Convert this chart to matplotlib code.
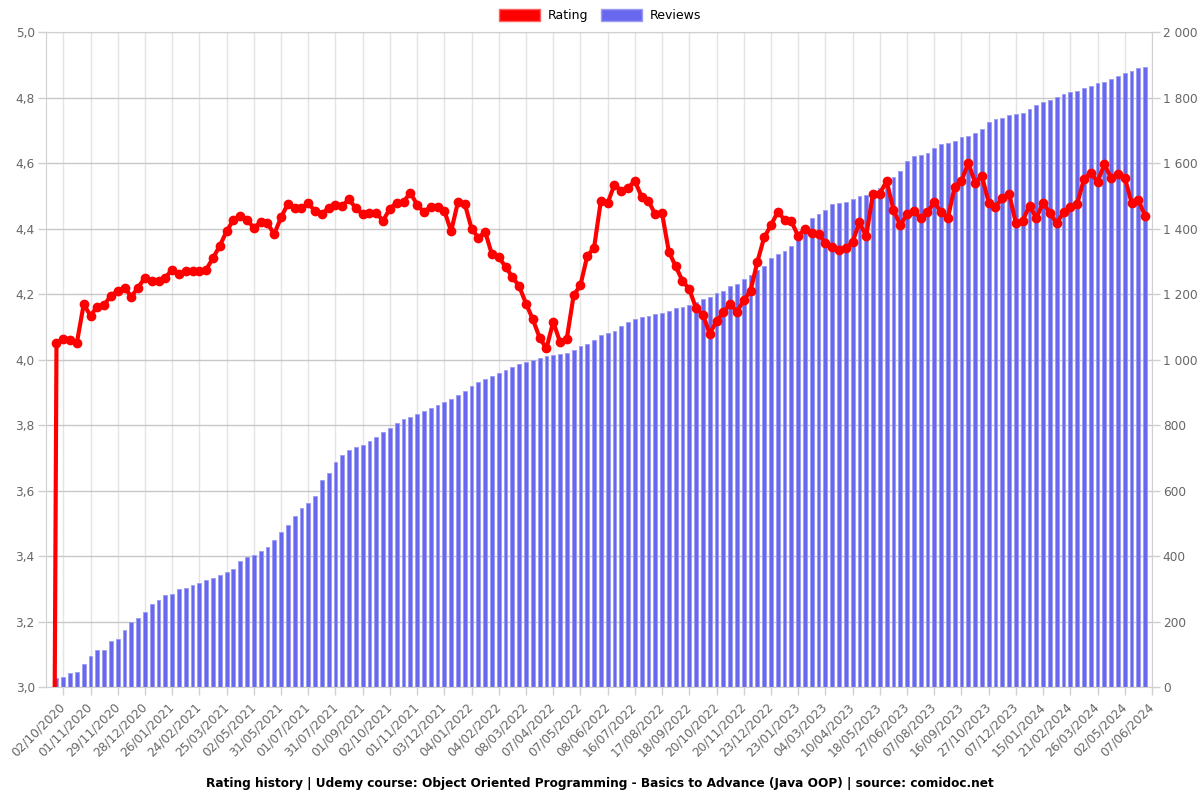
import numpy as np
import matplotlib.pyplot as plt
from matplotlib.patches import Patch
from matplotlib.transforms import ScaledTranslation
from matplotlib.ticker import FuncFormatter, MultipleLocator, FixedLocator

tick_labels = ['02/10/2020', '01/11/2020', '29/11/2020', '28/12/2020', '26/01/2021', '24/02/2021',
               '25/03/2021', '02/05/2021', '31/05/2021', '01/07/2021', '31/07/2021', '01/09/2021',
               '02/10/2021', '01/11/2021', '03/12/2021', '04/01/2022', '04/02/2022', '08/03/2022',
               '07/04/2022', '07/05/2022', '08/06/2022', '16/07/2022', '17/08/2022', '18/09/2022',
               '20/10/2022', '20/11/2022', '23/12/2022', '23/01/2023', '04/03/2023', '10/04/2023',
               '18/05/2023', '27/06/2023', '07/08/2023', '16/09/2023', '27/10/2023', '07/12/2023',
               '15/01/2024', '21/02/2024', '26/03/2024', '02/05/2024', '07/06/2024']

rating = [0.0,
          4.051, 4.063, 4.060, 4.052, 4.169, 4.134, 4.162, 4.167, 4.195, 4.210, 4.220, 4.192, 4.220,
          4.250, 4.240, 4.240, 4.250, 4.275, 4.260, 4.270, 4.270, 4.270, 4.275, 4.310,
          4.347, 4.392, 4.426, 4.438, 4.427, 4.402, 4.420, 4.416, 4.383, 4.434,
          4.475, 4.462, 4.463, 4.477, 4.453, 4.444, 4.464, 4.472, 4.470, 4.489,
          4.462, 4.443, 4.449, 4.447, 4.424, 4.461, 4.479,
          4.482, 4.509, 4.473, 4.450, 4.467,
          4.466, 4.454, 4.392, 4.481, 4.476, 4.400, 4.372, 4.390, 4.321, 4.313,
          4.283, 4.252, 4.224, 4.171, 4.123, 4.067, 4.034, 4.115, 4.054, 4.064,
          4.196, 4.227, 4.316, 4.341, 4.484, 4.478, 4.534, 4.516, 4.525, 4.545,
          4.497, 4.484, 4.443, 4.446, 4.329, 4.285, 4.240, 4.215, 4.156, 4.137,
          4.079, 4.117, 4.144, 4.171, 4.146, 4.181, 4.210, 4.298, 4.373, 4.410,
          4.451, 4.427, 4.422, 4.377, 4.400,
          4.385, 4.383, 4.357, 4.344, 4.334, 4.340, 4.359, 4.419, 4.377, 4.507,
          4.507, 4.545, 4.458, 4.410, 4.444, 4.453, 4.432, 4.450, 4.481, 4.450,
          4.432, 4.528, 4.545, 4.601, 4.540, 4.561, 4.479, 4.467, 4.493, 4.507,
          4.416, 4.424, 4.470, 4.432, 4.479, 4.447, 4.416, 4.450, 4.467, 4.475,
          4.551, 4.570, 4.543, 4.596, 4.554, 4.567, 4.555, 4.479, 4.487, 4.438]

reviews = [0,
           28, 31, 44, 46, 70, 95, 113, 113, 140, 148, 176, 198, 212, 229, 253,
           266, 280, 286, 301, 304, 311, 317, 326, 332, 341, 353, 362, 384, 397, 403,
           415, 427, 449, 473, 495, 522, 546, 562, 583, 632,
           653, 687, 708, 723, 733, 739, 751, 763, 778, 791,
           806, 818, 824, 833, 843, 852, 861, 870, 879, 891,
           904, 919, 931, 940, 949, 958, 968, 977, 986, 992,
           1000, 1006, 1010, 1013,
           1017, 1021, 1030, 1040, 1047, 1059, 1074, 1082, 1088, 1104,
           1115, 1123, 1129, 1132, 1138, 1143, 1148, 1156, 1162, 1168,
           1176, 1184, 1190, 1202, 1209, 1224, 1232, 1246, 1258, 1273,
           1286, 1311, 1321, 1331, 1347, 1375, 1392,
           1431, 1444, 1456, 1474, 1477, 1480, 1490, 1500, 1502, 1510,
           1524, 1545, 1556, 1575, 1607, 1620, 1626, 1631, 1646, 1657,
           1662, 1667, 1678, 1684, 1693, 1704, 1725, 1733, 1738, 1746,
           1750, 1754, 1765, 1778, 1787, 1792, 1801, 1810, 1817, 1821,
           1828, 1836, 1845, 1848, 1857, 1867, 1875, 1881, 1889, 1893]

grey = '#666666'
x = np.arange(len(rating))
tick_pos = np.arange(2, 2 + 4 * len(tick_labels), 4)

fig = plt.figure(figsize=(12, 8), dpi=100)
ax = fig.add_axes([0.038, 0.141, 0.922, 0.819])
ax2 = ax.twinx()

# reviews bars on the right-hand scale
ax.bar(x, reviews, width=0.56, color='#6868ee', edgecolor='#9c9cf4', linewidth=0.6, zorder=2)
ax.set_ylim(0, 2000)
ax.set_xlim(-0.6, tick_pos[-1])
ax.yaxis.tick_right()
ax.yaxis.set_major_locator(MultipleLocator(200))
ax.yaxis.set_major_formatter(FuncFormatter(lambda v, p: f'{int(v):,}'.replace(',', ' ')))
ax.xaxis.set_major_locator(FixedLocator(tick_pos))
ax.set_xticklabels(tick_labels, rotation=45, ha='right', va='center', rotation_mode='anchor')
shift = ScaledTranslation(-5 / 100, 0, fig.dpi_scale_trans)
for lab in ax.get_xticklabels():
    lab.set_transform(lab.get_transform() + shift)
ax.grid(axis='y', color='#c8c8c8', lw=1, zorder=0)
ax.grid(axis='x', color='#e4e4e4', lw=1, zorder=0)
ax.set_axisbelow(True)
ax.tick_params(axis='both', colors='#d0d0d0', labelcolor=grey, labelsize=8.7, length=6, width=1)
ax.tick_params(axis='y', pad=1.8)
ax.tick_params(axis='x', pad=7)
for s in ax.spines.values():
    s.set_color('#d0d0d0')

# rating line on the left-hand scale
ax2.plot(x, rating, color='red', lw=3, marker='o', ms=6, zorder=3)
ax2.set_ylim(3, 5)
ax2.yaxis.tick_left()
ax2.yaxis.set_major_locator(MultipleLocator(0.2))
ax2.yaxis.set_major_formatter(FuncFormatter(lambda v, p: f'{v:.1f}'.replace('.', ',')))
ax2.tick_params(axis='y', colors='#d0d0d0', labelcolor=grey, labelsize=8.7, length=6, width=1, pad=1.8)
for s in ax2.spines.values():
    s.set_visible(False)

handles = [Patch(facecolor='red', edgecolor='#ff6060', label='Rating'),
           Patch(facecolor='#6868ee', edgecolor='#9c9cf4', label='Reviews')]
fig.legend(handles=handles, loc='center', bbox_to_anchor=(0.5, 0.981), ncol=2, frameon=False,
           fontsize=9, handlelength=3.3, handleheight=1.1, columnspacing=1.0, handletextpad=0.6)

fig.text(0.5, 0.021, 'Rating history | Udemy course: Object Oriented Programming - Basics to Advance (Java OOP) | source: comidoc.net',
         ha='center', va='center', fontsize=8.7, fontweight='bold')

fig.savefig('out.png', dpi=100)
